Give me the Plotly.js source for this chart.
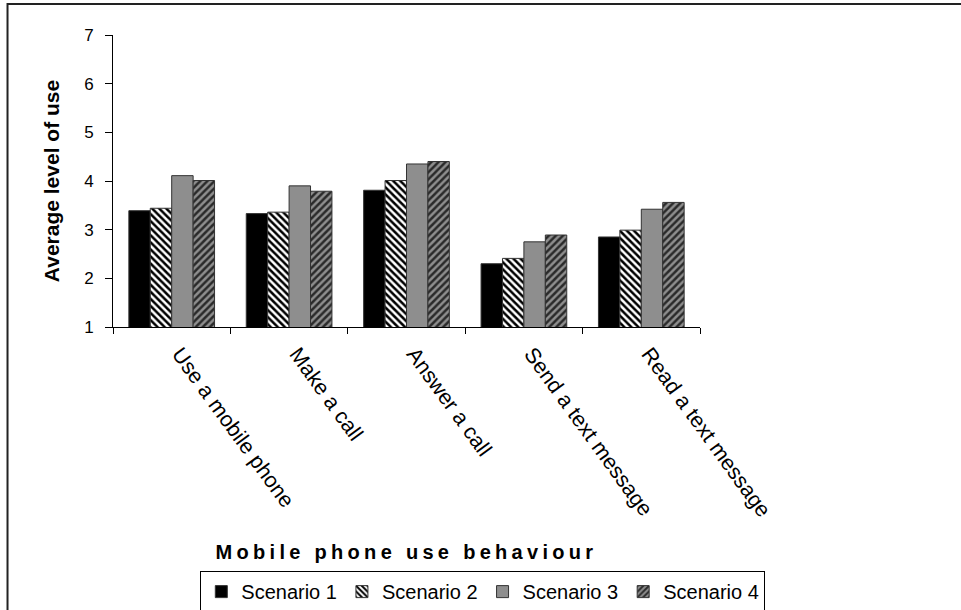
<!DOCTYPE html>
<html>
<head>
<meta charset="utf-8">
<script src="https://cdn.plot.ly/plotly-3.0.1.min.js"></script>
<style>
  html, body { margin: 0; padding: 0; background: #fff; width: 961px; height: 610px; overflow: hidden; }
  #chart { position: absolute; left: 0; top: 0; width: 961px; height: 630px; }
  .xtitle { letter-spacing: 4.3px; }
</style>
</head>
<body>
<div id="chart"></div>
<script>
const categories = ["Use a mobile phone", "Make a call", "Answer a call", "Send a text message", "Read a text message"];
const seriesNames = ["Scenario 1", "Scenario 2", "Scenario 3", "Scenario 4"];
const scenario1 = [3.39, 3.33, 3.81, 2.30, 2.85];
const scenario2 = [3.44, 3.36, 4.01, 2.41, 2.99];
const scenario3 = [4.11, 3.90, 4.35, 2.75, 3.42];
const scenario4 = [4.01, 3.79, 4.40, 2.89, 3.56];
const yTickVals = [1, 2, 3, 4, 5, 6, 7];

const FONT = '"Liberation Sans", Arial, sans-serif';

const styles = [
  { color: '#000000', pattern: { shape: '' } },
  { color: '#ffffff', pattern: { shape: '\\', fgcolor: '#000000', bgcolor: '#ffffff', size: 5, solidity: 0.5, fillmode: 'replace' } },
  { color: '#8e8e8e', pattern: { shape: '' } },
  { color: '#8e8e8e', pattern: { shape: '/', fgcolor: '#2a2a2a', bgcolor: '#8e8e8e', size: 5, solidity: 0.5, fillmode: 'replace' } }
];
const values = [scenario1, scenario2, scenario3, scenario4];

const traces = values.map((v, i) => ({
  type: 'bar',
  name: seriesNames[i],
  x: categories,
  y: v,
  marker: {
    color: styles[i].color,
    pattern: styles[i].pattern,
    line: { color: '#333333', width: 1 }
  }
}));

const layout = {
  width: 961,
  height: 630,
  margin: { l: 113, r: 261, t: 35, b: 303 },
  paper_bgcolor: '#ffffff',
  plot_bgcolor: '#ffffff',
  font: { family: FONT, color: '#000000' },
  barmode: 'group',
  bargap: 0.27,
  bargroupgap: 0,
  showlegend: true,
  legend: {
    orientation: 'h',
    x: 0.63, xanchor: 'center',
    y: -0.836, yanchor: 'top',
    bordercolor: '#000000', borderwidth: 1,
    bgcolor: '#ffffff',
    font: { size: 20, family: FONT, color: '#000000' },
    itemwidth: 30,
    traceorder: 'normal'
  },
  xaxis: {
    type: 'category',
    tickangle: 54,
    showline: true, linecolor: '#000000', linewidth: 1,
    ticks: 'outside', tickson: 'boundaries', ticklen: 6, tickcolor: '#000000',
    showgrid: false,
    ticklabelshift: 8,
    ticklabelstandoff: 5,
    tickfont: { size: 21.5, family: FONT, color: '#000000' },
    title: { text: 'Mobile phone use behaviour', font: { size: 20, family: FONT, weight: 'bold', color: '#000000' }, standoff: 24 },
    automargin: false
  },
  yaxis: {
    range: [1, 7],
    tickvals: yTickVals,
    showline: true, linecolor: '#000000', linewidth: 1,
    ticks: 'outside', ticklen: 7, tickcolor: '#000000',
    showgrid: false, zeroline: false,
    ticklabelstandoff: 8,
    tickfont: { size: 17, family: FONT, color: '#000000' },
    title: { text: 'Average level of use', font: { size: 21, family: FONT, weight: 'bold', color: '#000000' }, standoff: 18 },
    automargin: false
  },
  shapes: [
    { type: 'path', xref: 'paper', yref: 'paper',
      path: 'M -0.1797,-1.05 L -0.1797,1.106 L 1.45,1.106',
      line: { color: '#222222', width: 2 } }
  ]
};

Plotly.newPlot('chart', traces, layout, { displayModeBar: false, staticPlot: true });
</script>
</body>
</html>
